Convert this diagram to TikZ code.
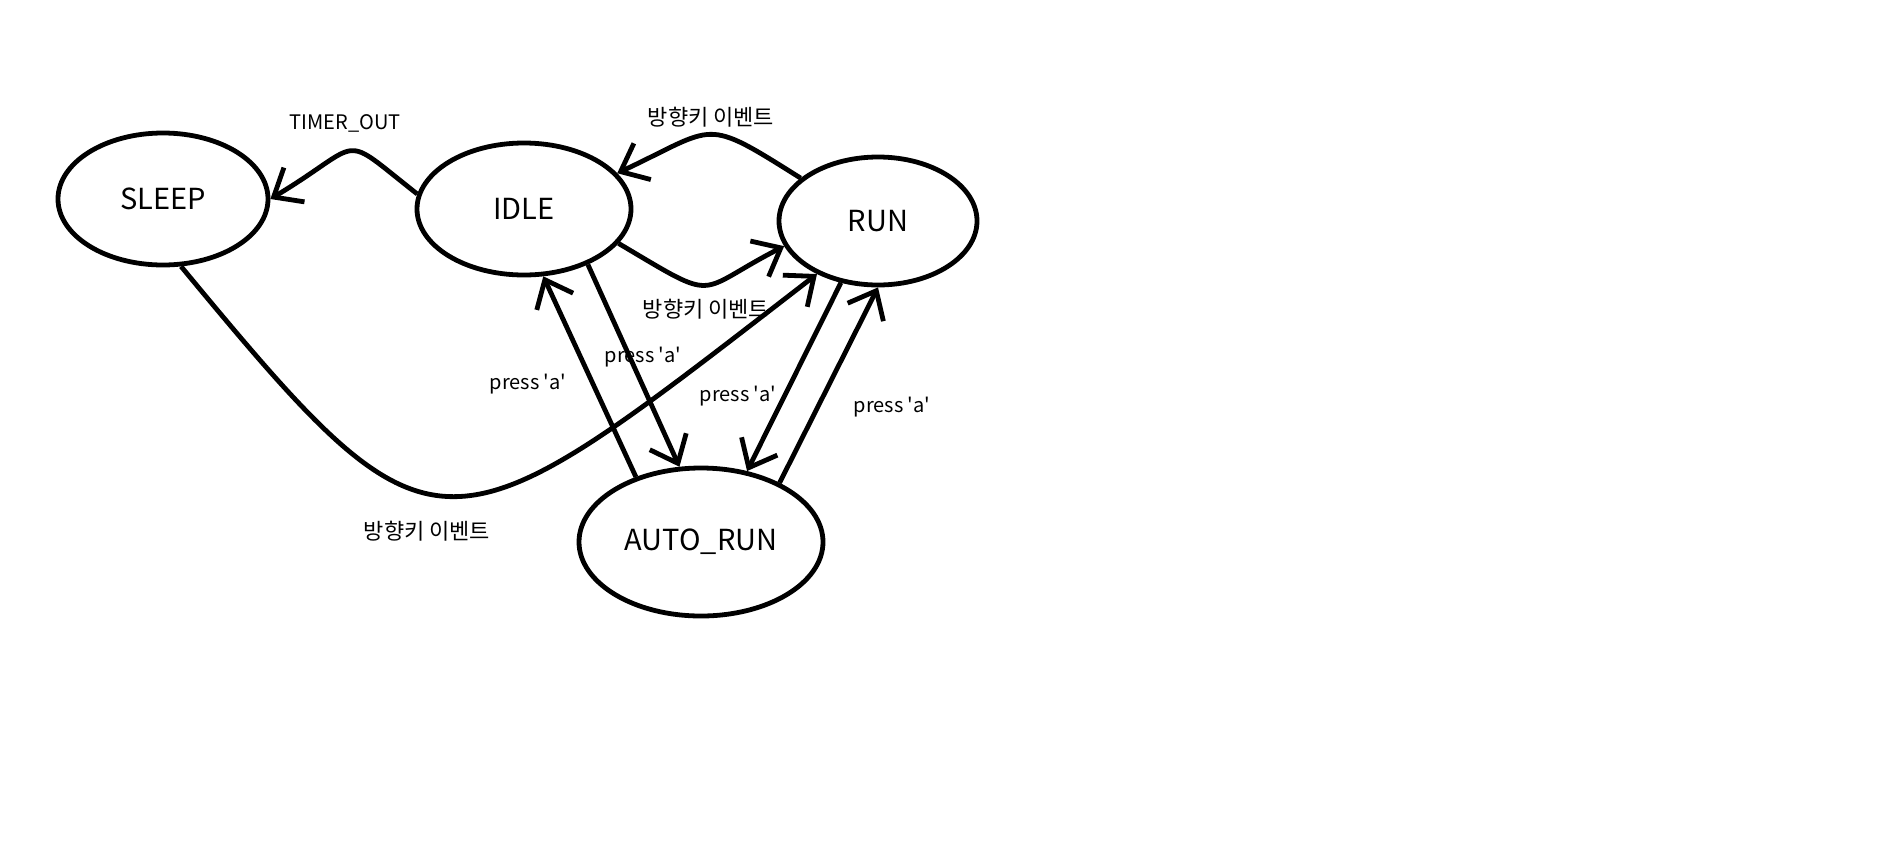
\documentclass[tikz,border=0pt]{standalone}
\usepackage{fontspec}
\setmainfont{Noto Sans CJK KR}[Ligatures=TeXOff]
\usepackage{tikz}
\usetikzlibrary{arrows.meta}
\usetikzlibrary{shapes.geometric}

\begin{document}
\begin{tikzpicture}[x=1pt, y=-1pt, line width=4.8pt,
	>={Straight Barb[length=24pt, width=40pt]},
	state/.style={fill=white, draw=black, shape=ellipse, inner sep=0pt, font=\fontsize{29}{34}\selectfont},
	lbl/.style={inner sep=1pt, font=\fontsize{20}{24}\selectfont},
	klbl/.style={inner sep=1pt, font=\fontsize{22}{26}\selectfont}]
	\path [use as bounding box, fill=white] (0, 0) rectangle (1892, 847);
	\node [state, minimum width=210pt, minimum height=132pt] (sleep) at (163, 199) {SLEEP};
	\node [state, minimum width=214pt, minimum height=132pt] (idle) at (524, 209) {IDLE};
	\node [state, minimum width=198pt, minimum height=128pt] (run) at (878, 221) {RUN};
	\node [state, minimum width=244pt, minimum height=148pt] (auto) at (701, 542) {AUTO\_RUN};
	\node [lbl] (timer) at (345, 123) {TIMER\_OUT};
	\node [klbl] (keytop) at (711, 117) {방향키 이벤트};
	\node [klbl] (keymid) at (706, 309) {방향키 이벤트};
	\node [klbl] (keylow) at (427, 531) {방향키 이벤트};
	\node [lbl] (pa1) at (528, 384) {press 'a'};
	\node [lbl] (pa2) at (643, 357) {press 'a'};
	\node [lbl] (pa3) at (738, 396) {press 'a'};
	\node [lbl] (pa4) at (892, 407) {press 'a'};
	\draw [fill=none, ->] (idle.172) .. controls (337, 131) and (367, 141) .. (sleep.0);
	\draw [fill=none, ->] (run.151) .. controls (702, 116) and (718, 126) .. (idle.21);
	\draw [fill=none, ->] (idle.-20) .. controls (721, 304) and (693, 293) .. (run.195);
	\draw [fill=none, ->] (sleep.-75) .. controls (439, 578) and (440, 565) .. (run.221);
	\draw [fill=none, ->] (auto.135) to (idle.-74);
	\draw [fill=none, ->] (idle.-41) to (auto.106);
	\draw [fill=none, ->] (run.-121) to (auto.57);
	\draw [fill=none, ->] (auto.37) to (run.-90);
\end{tikzpicture}
\end{document}
